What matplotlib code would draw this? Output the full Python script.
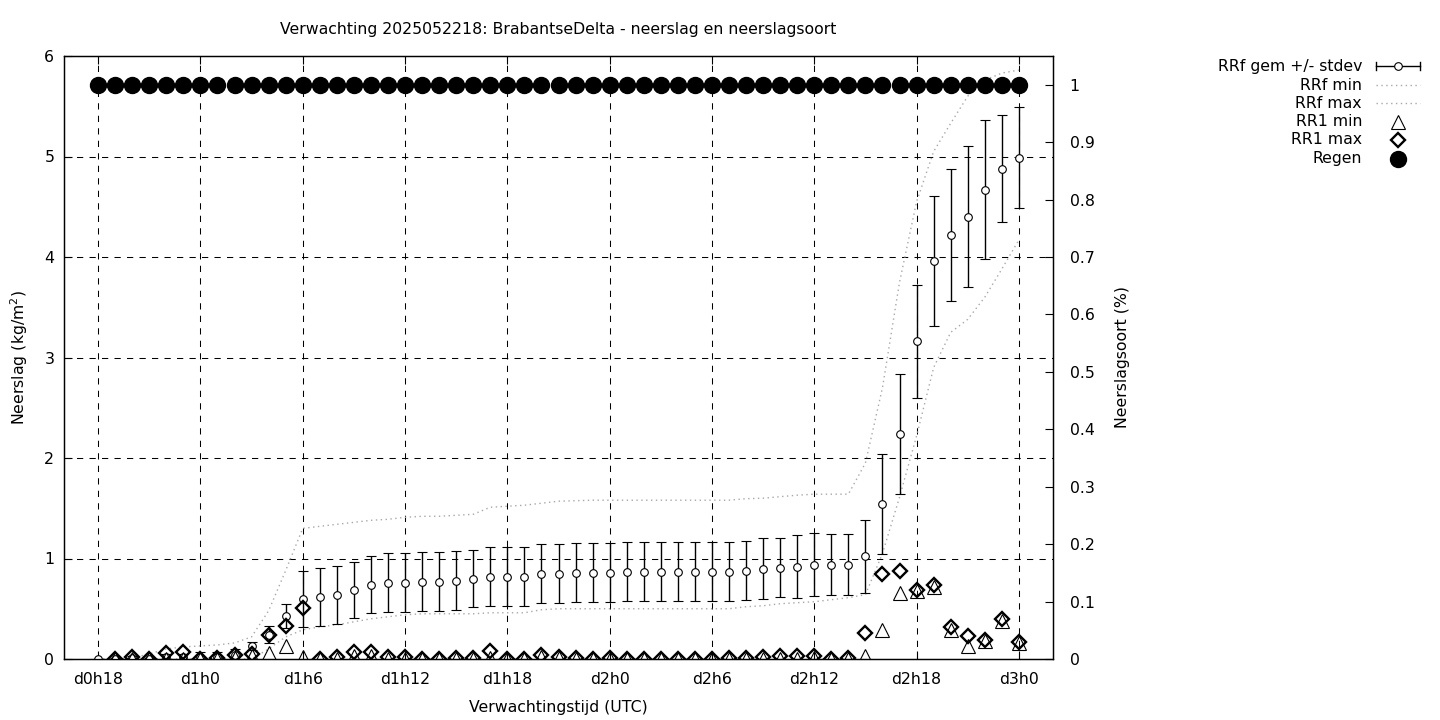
import numpy as np
import matplotlib
matplotlib.use('Agg')
import matplotlib.pyplot as plt

# Verwachting 2025052218: uurwaarden van d0h18 t/m d3h0 (55 stappen)
uren = np.arange(55)

rrf_gem = [0.0, 0.0, 0.01, 0.0, 0.02, 0.02, 0.02, 0.02, 0.04, 0.13,
           0.24, 0.43, 0.60, 0.62, 0.64, 0.69, 0.74, 0.76, 0.76, 0.77,
           0.77, 0.78, 0.80, 0.82, 0.82, 0.82, 0.85, 0.85, 0.86, 0.86,
           0.86, 0.87, 0.87, 0.87, 0.87, 0.87, 0.87, 0.87, 0.88, 0.90,
           0.91, 0.92, 0.94, 0.94, 0.94, 1.02, 1.54, 2.24, 3.16, 3.96,
           4.22, 4.40, 4.67, 4.88, 4.99]
rrf_std = [0.0, 0.01, 0.02, 0.01, 0.03, 0.03, 0.05, 0.05, 0.06, 0.04,
           0.085, 0.12, 0.28, 0.29, 0.29, 0.28, 0.28, 0.29, 0.29, 0.29,
           0.29, 0.29, 0.28, 0.29, 0.29, 0.29, 0.29, 0.29, 0.29, 0.29,
           0.29, 0.29, 0.29, 0.29, 0.29, 0.29, 0.29, 0.29, 0.29, 0.30,
           0.29, 0.31, 0.31, 0.30, 0.30, 0.36, 0.50, 0.60, 0.56, 0.65,
           0.66, 0.70, 0.69, 0.53, 0.50]
rrf_min = [0.0, 0.0, 0.0, 0.0, 0.0, 0.0, 0.0, 0.0, 0.0, 0.0,
           0.10, 0.22, 0.29, 0.32, 0.34, 0.37, 0.40, 0.42, 0.44, 0.45,
           0.45, 0.45, 0.45, 0.46, 0.46, 0.46, 0.49, 0.50, 0.50, 0.50,
           0.50, 0.50, 0.50, 0.50, 0.50, 0.50, 0.50, 0.50, 0.52, 0.53,
           0.55, 0.56, 0.57, 0.59, 0.61, 0.64, 1.05, 1.61, 2.22, 2.90,
           3.25, 3.38, 3.60, 3.88, 4.17]
rrf_max = [0.0, 0.0, 0.01, 0.05, 0.10, 0.12, 0.13, 0.14, 0.16, 0.22,
           0.48, 0.88, 1.30, 1.32, 1.34, 1.36, 1.38, 1.39, 1.41, 1.42,
           1.42, 1.43, 1.44, 1.51, 1.52, 1.53, 1.55, 1.57, 1.575, 1.58,
           1.58, 1.58, 1.58, 1.58, 1.58, 1.58, 1.58, 1.58, 1.595, 1.60,
           1.615, 1.63, 1.64, 1.64, 1.64, 1.95, 2.70, 3.75, 4.55, 5.05,
           5.33, 5.60, 5.76, 5.83, 5.86]
rr1_min = [np.nan, 0.0, 0.0, 0.0, 0.0, 0.0, 0.0, 0.0, 0.01, 0.03,
           0.06, 0.13, 0.02, 0.0, 0.0, 0.03, 0.03, 0.0, 0.0, 0.0,
           0.0, 0.0, 0.0, 0.01, 0.0, 0.0, 0.02, 0.01, 0.0, 0.0,
           0.0, 0.0, 0.0, 0.0, 0.0, 0.0, 0.0, 0.0, 0.0, 0.0,
           0.0, 0.0, 0.01, 0.0, 0.0, 0.03, 0.29, 0.66, 0.68, 0.72,
           0.29, 0.13, 0.18, 0.38, 0.16]
rr1_max = [np.nan, 0.0, 0.02, 0.0, 0.06, 0.07, 0.0, 0.01, 0.04, 0.05,
           0.24, 0.33, 0.51, 0.0, 0.02, 0.07, 0.07, 0.02, 0.02, 0.0,
           0.0, 0.01, 0.01, 0.08, 0.0, 0.0, 0.04, 0.02, 0.01, 0.0,
           0.01, 0.0, 0.0, 0.0, 0.0, 0.0, 0.0, 0.01, 0.01, 0.02,
           0.03, 0.03, 0.03, 0.0, 0.01, 0.26, 0.85, 0.88, 0.69, 0.74,
           0.32, 0.23, 0.19, 0.40, 0.17]
regen = [1.0] * 55

tick_pos = [0, 6, 12, 18, 24, 30, 36, 42, 48, 54]
tick_labels = ['d0h18', 'd1h0', 'd1h6', 'd1h12', 'd1h18',
               'd2h0', 'd2h6', 'd2h12', 'd2h18', 'd3h0']

fs = 11.3
plt.rcParams['font.family'] = 'DejaVu Sans'

fig = plt.figure(figsize=(14.4, 7.2), dpi=100)
ax = fig.add_axes([64 / 1440, 61 / 720, 989 / 1440, 603 / 720])
ax2 = ax.twinx()

# grid (gestreept, zwart)
for t in tick_pos:
    ax.axvline(t, color='black', lw=0.75, ls=(0, (6, 6)), zorder=0)
for v in [1, 2, 3, 4, 5]:
    ax.axhline(v, color='black', lw=0.75, ls=(0, (6, 6)), zorder=0)

# min / max van de verwachting
ax.plot(uren, rrf_min, color='#a8a8a8', lw=1, ls=(0, (1, 2.5)), zorder=1)
ax.plot(uren, rrf_max, color='#a8a8a8', lw=1, ls=(0, (1, 2.5)), zorder=1)

# gemiddelde +/- stdev
ax.errorbar(uren, rrf_gem, yerr=rrf_std, fmt='o', color='black', ms=5.5,
            mfc='white', mec='black', mew=0.8, elinewidth=1, capsize=3.6,
            capthick=1, zorder=3)

# RR1 min en max
ax.plot(uren, rr1_min, ls='none', marker='^', ms=10, mfc='none',
        mec='black', mew=0.8, zorder=4)
ax.plot(uren, rr1_max, ls='none', marker='D', ms=7.3, mfc='none',
        mec='black', mew=1.7, zorder=4)

# neerslagsoort op rechter as
ax2.plot(uren, regen, ls='none', marker='o', ms=11.5, color='black')

ax.set_xlim(-2, 56)
ax.set_ylim(0, 6)
ax2.set_ylim(0, 1.05)

ax.set_xticks(tick_pos)
ax.set_xticklabels(tick_labels, fontsize=fs)
ax.set_yticks(range(7))
ax.set_yticklabels([str(v) for v in range(7)], fontsize=fs)
ax2.set_yticks(np.arange(0, 1.01, 0.1))
ax2.set_yticklabels(['0', '0.1', '0.2', '0.3', '0.4', '0.5', '0.6',
                     '0.7', '0.8', '0.9', '1'], fontsize=fs)

ax.tick_params(axis='both', direction='in', length=6, width=0.8,
               top=True, right=False, pad=7)
ax.tick_params(axis='x', pad=9)
ax2.tick_params(axis='y', direction='in', length=6, width=0.8, pad=12)

for sp in list(ax.spines.values()) + list(ax2.spines.values()):
    sp.set_linewidth(0.9)

ax.set_xlabel('Verwachtingstijd (UTC)', fontsize=fs, labelpad=10)
ax.set_ylabel('Neerslag (kg/m$^2$)', fontsize=fs, labelpad=10)
ax2.set_ylabel('Neerslagsoort (%)', fontsize=fs, labelpad=15)
ax.set_title('Verwachting 2025052218: BrabantseDelta - neerslag en neerslagsoort',
             fontsize=fs, pad=15.5)

# legenda rechtsboven, buiten de grafiek
lax = fig.add_axes([0, 0, 1, 1])
lax.set_xlim(0, 1440)
lax.set_ylim(720, 0)
lax.axis('off')
namen = ['RRf gem +/- stdev', 'RRf min', 'RRf max', 'RR1 min', 'RR1 max', 'Regen']
rijen = [66, 85, 103, 122, 140, 159]
for naam, y in zip(namen, rijen):
    lax.text(1362, y, naam, ha='right', va='center', fontsize=fs)
x0, x1, xm = 1376, 1420, 1398
lax.plot([x0, x1], [rijen[0], rijen[0]], color='black', lw=1)
lax.plot([x0, x0], [rijen[0] - 4, rijen[0] + 4], color='black', lw=1)
lax.plot([x1, x1], [rijen[0] - 4, rijen[0] + 4], color='black', lw=1)
lax.plot([xm], [rijen[0]], marker='o', ms=5.5, mfc='white', mec='black', mew=0.8)
for y in rijen[1:3]:
    lax.plot([x0, x1], [y, y], color='#a8a8a8', lw=1, ls=(0, (1, 2.5)))
lax.plot([xm], [rijen[3]], marker='^', ms=10, mfc='none', mec='black', mew=0.8)
lax.plot([xm], [rijen[4]], marker='D', ms=7.3, mfc='none', mec='black', mew=1.7)
lax.plot([xm], [rijen[5]], marker='o', ms=11.5, color='black')

fig.savefig('out.png', dpi=100)
